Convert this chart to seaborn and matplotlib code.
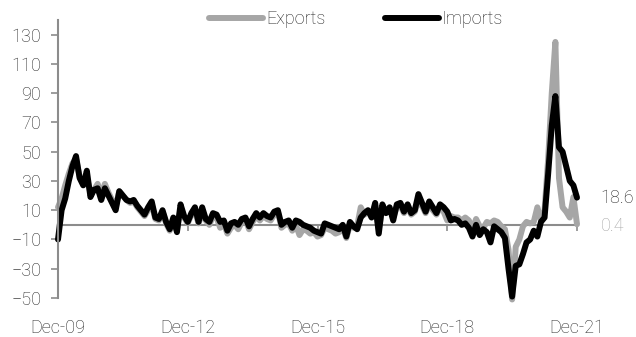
import numpy as np
import pandas as pd
import matplotlib
matplotlib.use("Agg")
import matplotlib.pyplot as plt
import seaborn as sns

# Monthly year-on-year growth (%), Dec-09 to Dec-21
months = pd.period_range("2009-12", "2021-12", freq="M")

imports = [
    -10, 10, 18, 30, 40, 47, 32, 27, 37, 19, 24, 25,
    17, 25, 20, 15, 10, 23, 20, 17, 16, 17, 13, 10,
    7, 12, 16, 5, 4, 10, 2, -3, 5, -5, 14, 6,
    2, 8, 12, 2, 12, 4, 2, 8, 7, 2, 3, -4,
    1, 2, 0, 4, 5, -1, 4, 8, 5, 8, 6, 5,
    9, 10, 0, 2, 3, -2, 3, 2, 0, -1, -2, -4,
    -5, -6, 1, 0, -1, -2, -3, 0, -8, 2, -1, -3,
    5, 8, 10, 5, 15, -6, 14, 8, 12, 3, 14, 15,
    9, 14, 8, 10, 21, 15, 9, 16, 12, 8, 14, 12,
    9, 3, 4, 3, 0, 1, -2, -8, 0, -7, -3, -5,
    -12, -1, -3, -5, -9, -30, -49, -28, -27, -20, -12, -10,
    -4, -8, 2, 5, 35, 68, 88, 53, 50, 40, 30, 27,
    18.6,
]

exports = [
    12, 18, 27, 35, 42, 45, 33, 28, 32, 22, 24, 28,
    20, 28, 22, 17, 12, 23, 20, 17, 15, 16, 12, 9,
    6, 10, 14, 4, 3, 9, 1, -4, 4, -4, 11, 5,
    1, 7, 9, 1, 8, 3, 0, 6, 5, -2, 1, -6,
    -2, 0, -3, 2, 4, -3, 2, 6, 3, 6, 4, 3,
    7, 9, -2, 0, 1, -4, 0, -7, -3, -4, -6, -5,
    -8, -7, -2, -3, -4, -6, -5, -2, -9, 0, -2, -1,
    12, 7, 9, 7, 13, -3, 12, 10, 11, 5, 12, 13,
    8, 12, 7, 9, 17, 13, 8, 14, 10, 7, 12, 9,
    3, 6, 5, 5, 3, 5, 3, -3, 4, -1, -2, 2,
    1, 3, 2, -1, -3, -17, -51, -15, -10, -1, 2, 1,
    2, 12, 3, 10, 45, 90, 125, 32, 12, 9, 5, 19,
    0.4,
]

tick_months = ["2009-12", "2012-12", "2015-12", "2018-12", "2021-12"]
tick_labels = ["Dec-09", "Dec-12", "Dec-15", "Dec-18", "Dec-21"]
y_ticks = [-50, -30, -10, 10, 30, 50, 70, 90, 110, 130]

df = pd.DataFrame({
    "t": np.arange(len(months)),
    "Exports": exports,
    "Imports": imports,
})
long = df.melt(id_vars="t", var_name="series", value_name="value")

sns.set_theme(style="white")
plt.rcParams["font.family"] = ["Roboto", "DejaVu Sans"]
plt.rcParams["font.weight"] = "light"

text_col = "#262626"
axis_col = "#8c8c8c"
palette = {"Exports": "#a6a6a6", "Imports": "#000000"}

fig = plt.figure(figsize=(6.36, 3.37), dpi=100)
ax = fig.add_axes([58 / 636, 1 - 298 / 337, (577 - 58) / 636, (298 - 20) / 337])

sns.lineplot(data=long, x="t", y="value", hue="series", palette=palette,
             hue_order=["Exports", "Imports"], linewidth=4.3, ax=ax,
             legend=False, clip_on=False)
for ln in ax.lines:
    ln.set_solid_capstyle("round")
    ln.set_solid_joinstyle("round")

ax.set_xlim(0, len(months) - 1)
ax.set_ylim(-50, 140)
ax.set_xlabel("")
ax.set_ylabel("")

pos = [months.get_loc(pd.Period(m, freq="M")) for m in tick_months]
ax.set_xticks(pos)
ax.set_xticklabels(tick_labels)
ax.set_yticks(y_ticks)

for s in ["top", "right"]:
    ax.spines[s].set_visible(False)
ax.spines["left"].set_color(axis_col)
ax.spines["left"].set_linewidth(1.5)
ax.spines["bottom"].set_position(("data", 0))
ax.spines["bottom"].set_color(axis_col)
ax.spines["bottom"].set_linewidth(1.5)
ax.spines["bottom"].set_zorder(0.5)

ax.tick_params(axis="y", direction="out", length=5, width=1.2, color=axis_col,
               labelsize=13, labelcolor=text_col, pad=7, left=True)
ax.tick_params(axis="x", direction="out", length=4, width=1.2, color=axis_col,
               labelsize=13, labelcolor=text_col, pad=64, bottom=True)

# End-of-series value labels
ax.annotate(f"{imports[-1]:.1f}", xy=(len(months) - 1, imports[-1]),
            xytext=(17, 0), textcoords="offset points", va="center", ha="left",
            fontsize=13, color=text_col, annotation_clip=False)
ax.annotate(f"{exports[-1]:.1f}", xy=(len(months) - 1, exports[-1]),
            xytext=(17, -1), textcoords="offset points", va="center", ha="left",
            fontsize=13, color="#a6a6a6", annotation_clip=False)

handles = [plt.Line2D([], [], color=palette[k], linewidth=4.3,
                      solid_capstyle="round") for k in ["Exports", "Imports"]]
fig.legend(handles, ["Exports", "Imports"], loc="center",
           bbox_to_anchor=(356 / 636, 1 - 19 / 337), ncol=2, frameon=False,
           fontsize=13, handlelength=3.0, handletextpad=0.15,
           columnspacing=3.3, labelcolor=text_col)

fig.savefig("out.png", dpi=100)
